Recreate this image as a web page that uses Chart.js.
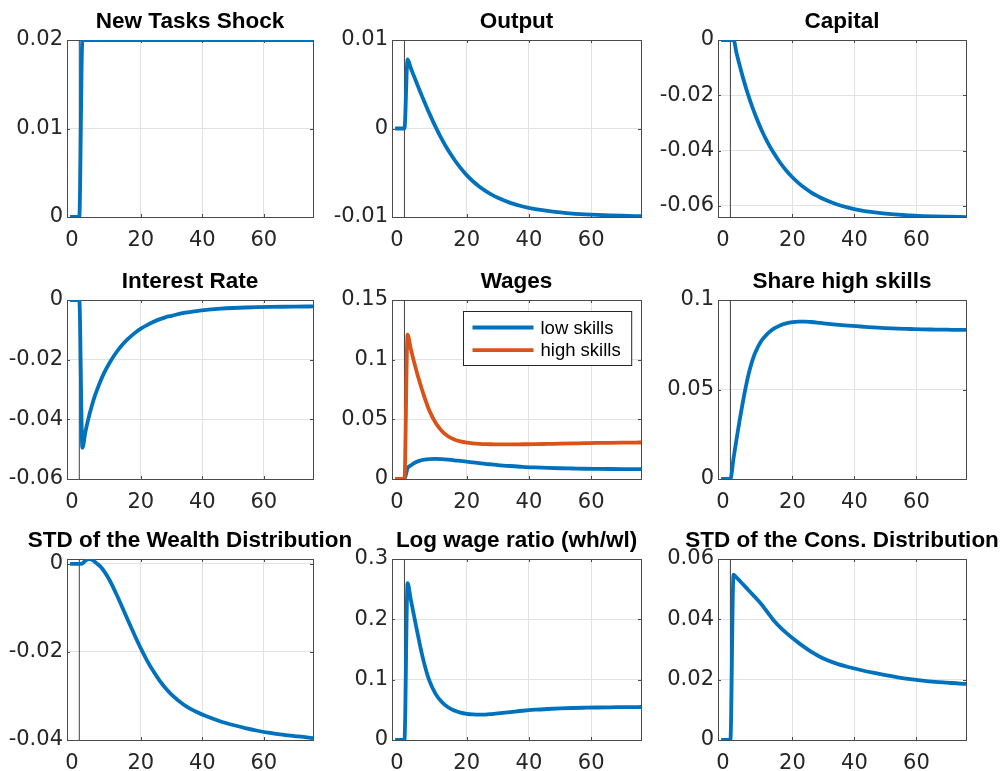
<!DOCTYPE html>
<html>
<head>
<meta charset="utf-8">
<script src="https://cdn.jsdelivr.net/npm/chart.js@4.4.1/dist/chart.umd.min.js"></script>
<style>
  html, body { margin: 0; padding: 0; background: #ffffff; overflow: hidden; width: 1003px; height: 771px; }
  canvas { position: absolute; }
</style>
</head>
<body>
<script>
// Periods relative to the shock (shock hits at t = 1)
const periods = [-3, -2, -1, 0, 1, 2, 3, 4, 5, 6, 7, 8, 10, 12, 14, 16, 18, 20, 22, 24, 26, 28, 30, 34, 38, 42, 46, 50, 54, 58, 62, 66, 70, 74, 76];

// Impulse responses, one value per period
const newTasks = [0, 0, 0, 0, 0.02, 0.02, 0.02, 0.02, 0.02, 0.02, 0.02, 0.02, 0.02, 0.02, 0.02, 0.02, 0.02, 0.02, 0.02, 0.02, 0.02, 0.02, 0.02, 0.02, 0.02, 0.02, 0.02, 0.02, 0.02, 0.02, 0.02, 0.02, 0.02, 0.02, 0.02];
const output = [0, 0, 0, 0, 0.0078, 0.00687, 0.00597, 0.00508, 0.0042, 0.00335, 0.00251, 0.00171, 0.00018, -0.00121, -0.00244, -0.0035, -0.00445, -0.00527, -0.00596, -0.00655, -0.00705, -0.00747, -0.00783, -0.0084, -0.00881, -0.00911, -0.00932, -0.00948, -0.00961, -0.0097, -0.00977, -0.00982, -0.00986, -0.00989, -0.00991];
const capital = [0, 0, 0, 0, 0, -0.00482, -0.00924, -0.01342, -0.01721, -0.02074, -0.02401, -0.02703, -0.03242, -0.03698, -0.04089, -0.0443, -0.04719, -0.04963, -0.05175, -0.05354, -0.05508, -0.05637, -0.05752, -0.05932, -0.0606, -0.06157, -0.06227, -0.06279, -0.06317, -0.06343, -0.06365, -0.0638, -0.0639, -0.06398, -0.06401];
const interestRate = [0, 0, 0, 0, -0.0495, -0.0441, -0.0396, -0.0357, -0.0323, -0.0295, -0.0269, -0.0246, -0.0208, -0.0176, -0.015, -0.0129, -0.0111, -0.0096, -0.0084, -0.0074, -0.0065, -0.0058, -0.0053, -0.00435, -0.0037, -0.00324, -0.00291, -0.00268, -0.00252, -0.0024, -0.00232, -0.00226, -0.00221, -0.00218, -0.00217];
const wageLow = [0, 0, 0, 0, 0.009, 0.0114, 0.0131, 0.0144, 0.0154, 0.016, 0.0164, 0.0167, 0.0168, 0.0166, 0.0162, 0.0157, 0.0151, 0.0145, 0.0139, 0.0133, 0.0127, 0.0122, 0.0117, 0.0109, 0.0102, 0.0097, 0.0093, 0.009, 0.0088, 0.0086, 0.0085, 0.0084, 0.0083, 0.0082, 0.0082];
const wageHigh = [0, 0, 0, 0, 0.121, 0.1095, 0.099, 0.0893, 0.0803, 0.072, 0.0643, 0.0573, 0.0472, 0.0403, 0.0358, 0.0331, 0.0315, 0.0305, 0.0299, 0.0295, 0.0292, 0.0291, 0.029, 0.029, 0.0291, 0.0292, 0.0294, 0.0296, 0.0298, 0.03, 0.0302, 0.0303, 0.0304, 0.0305, 0.0306];
const shareHigh = [0, 0, 0, 0, 0.0115, 0.0225, 0.033, 0.0428, 0.0518, 0.0595, 0.0657, 0.0705, 0.0772, 0.0812, 0.084, 0.0858, 0.0869, 0.0876, 0.0879, 0.0879, 0.0877, 0.0874, 0.087, 0.0863, 0.0857, 0.0852, 0.0847, 0.0843, 0.084, 0.0838, 0.0836, 0.0835, 0.0834, 0.0833, 0.0833];
const wealthStd = [0, 0, 0, 0, 0.0001, 0.0007, 0.0011, 0.001, 0.0005, -0.0001, -0.0007, -0.0016, -0.0039, -0.0068, -0.0099, -0.0131, -0.0162, -0.0192, -0.0219, -0.0243, -0.0264, -0.0282, -0.0297, -0.032, -0.0336, -0.0348, -0.0358, -0.0366, -0.0373, -0.0379, -0.0384, -0.0388, -0.0391, -0.0394, -0.0396];
const logWageRatio = [0, 0, 0, 0, 0.26, 0.234, 0.208, 0.182, 0.157, 0.134, 0.1145, 0.0985, 0.0765, 0.063, 0.0543, 0.0488, 0.0454, 0.0434, 0.0423, 0.0419, 0.0421, 0.043, 0.044, 0.0462, 0.0485, 0.0502, 0.0514, 0.0523, 0.053, 0.0535, 0.0539, 0.0542, 0.0544, 0.0546, 0.0547];
const consStd = [0, 0, 0, 0, 0.0548, 0.0538, 0.0528, 0.0517, 0.0506, 0.0495, 0.0484, 0.0473, 0.045, 0.0423, 0.0396, 0.0374, 0.0355, 0.0338, 0.0322, 0.0307, 0.0293, 0.0281, 0.027, 0.0254, 0.0242, 0.0232, 0.0223, 0.0215, 0.0208, 0.0202, 0.0197, 0.0193, 0.019, 0.0187, 0.0186];

// Horizontal axis: range, tick label positions and tick labels
const xRange = [-4, 76];
const xLabelAt = [-2.4, 20, 40, 60];
const xLabels = ['0', '20', '40', '60'];

// Vertical tick values for each panel
const shockTicks = [0, 0.01, 0.02];
const outputTicks = [-0.01, 0, 0.01];
const capitalTicks = [-0.06, -0.04, -0.02, 0];
const interestTicks = [-0.06, -0.04, -0.02, 0];
const wageTicks = [0, 0.05, 0.1, 0.15];
const shareTicks = [0, 0.05, 0.1];
const wealthTicks = [-0.04, -0.02, 0];
const ratioTicks = [0, 0.1, 0.2, 0.3];
const consTicks = [0, 0.02, 0.04, 0.06];

// Styling
const BLUE = '#0072BD';
const ORANGE = '#D95319';
const AXIS = '#4a4a4a';
const GRID = '#e2e2e2';
const TICK_COLOR = '#262626';
const TICK_FONT = { family: '"DejaVu Sans", sans-serif', size: 21 };
const TITLE_FONT = 'bold 22.5px "Liberation Sans", Arial, sans-serif';
const LEGEND_FONT = '18.5px "Liberation Sans", Arial, sans-serif';
const LINE_W = 3.8;

// Axes boxes in page pixels (columns / rows of the 3x3 grid)
const AX_L = [67, 392, 718], AX_R = [313, 641, 966];
const AX_T = [40, 300, 559], AX_B = [217, 479, 740];
const PAD = { l: 62, r: 40, t: 40, b: 42 };

const panels = [
  { title: 'New Tasks Shock', col: 0, row: 0, y: [0, 0.02], yTicks: shockTicks, series: [{ values: newTasks, color: BLUE }] },
  { title: 'Output', col: 1, row: 0, y: [-0.01, 0.01], yTicks: outputTicks, series: [{ values: output, color: BLUE }] },
  { title: 'Capital', col: 2, row: 0, y: [-0.064, 0], yTicks: capitalTicks, series: [{ values: capital, color: BLUE }] },
  { title: 'Interest Rate', col: 0, row: 1, y: [-0.06, 0], yTicks: interestTicks, series: [{ values: interestRate, color: BLUE }] },
  { title: 'Wages', col: 1, row: 1, y: [0, 0.15], yTicks: wageTicks, legend: true,
    series: [{ label: 'low skills', values: wageLow, color: BLUE }, { label: 'high skills', values: wageHigh, color: ORANGE }] },
  { title: 'Share high skills', col: 2, row: 1, y: [0, 0.1], yTicks: shareTicks, series: [{ values: shareHigh, color: BLUE }] },
  { title: 'STD of the Wealth Distribution', col: 0, row: 2, y: [-0.04, 0.0011], yTicks: wealthTicks, series: [{ values: wealthStd, color: BLUE }] },
  { title: 'Log wage ratio (wh/wl)', col: 1, row: 2, y: [0, 0.3], yTicks: ratioTicks, series: [{ values: logWageRatio, color: BLUE }] },
  { title: 'STD of the Cons. Distribution', col: 2, row: 2, y: [0, 0.06], yTicks: consTicks, series: [{ values: consStd, color: BLUE }] }
];

// Box around the axes with short inward tick marks on all four sides
const framePlugin = {
  id: 'frame',
  beforeDatasetsDraw(chart) {
    const { ctx, chartArea: a, scales } = chart;
    ctx.save();
    ctx.strokeStyle = AXIS;
    ctx.lineWidth = 1;
    ctx.strokeRect(a.left + 0.5, a.top + 0.5, a.right - a.left, a.bottom - a.top);
    const tl = 3;
    ctx.beginPath();
    scales.x.ticks.forEach((t, i) => {
      if (i === 0) return;
      const px = Math.round(scales.x.getPixelForValue(t.value)) + 0.5;
      ctx.moveTo(px, a.bottom); ctx.lineTo(px, a.bottom - tl);
      ctx.moveTo(px, a.top); ctx.lineTo(px, a.top + tl);
    });
    scales.y.ticks.forEach(t => {
      const py = Math.round(scales.y.getPixelForValue(t.value)) + 0.5;
      ctx.moveTo(a.left, py); ctx.lineTo(a.left + tl, py);
      ctx.moveTo(a.right, py); ctx.lineTo(a.right - tl, py);
    });
    ctx.stroke();
    ctx.restore();
  }
};

// Bold panel title centred over the axes
const titlePlugin = {
  id: 'panelTitle',
  afterDraw(chart, args, opts) {
    const { ctx, chartArea: a } = chart;
    ctx.save();
    ctx.font = TITLE_FONT;
    ctx.fillStyle = '#000000';
    ctx.textAlign = 'center';
    ctx.textBaseline = 'alphabetic';
    ctx.fillText(opts.text, (a.left + a.right) / 2, a.top - 12);
    ctx.restore();
  }
};

// Boxed legend in the upper-right corner of the axes
const boxLegendPlugin = {
  id: 'boxLegend',
  afterDatasetsDraw(chart, args, opts) {
    if (!opts.show) return;
    const { ctx, chartArea: a } = chart;
    const items = chart.data.datasets.filter(d => d.label);
    ctx.save();
    ctx.font = LEGEND_FONT;
    const maxW = Math.max(...items.map(d => ctx.measureText(d.label).width));
    const bw = 77 + maxW + 11, bh = 54;
    const bx = Math.round(a.right - 10 - bw) + 0.5, by = Math.round(a.top + 11) + 0.5;
    ctx.fillStyle = '#ffffff';
    ctx.fillRect(bx, by, bw, bh);
    ctx.strokeStyle = '#262626';
    ctx.lineWidth = 1;
    ctx.strokeRect(bx, by, bw, bh);
    items.forEach((d, i) => {
      const ly = by + 16 + i * 22.6;
      ctx.strokeStyle = d.borderColor;
      ctx.lineWidth = LINE_W;
      ctx.beginPath();
      ctx.moveTo(bx + 9, ly); ctx.lineTo(bx + 70, ly);
      ctx.stroke();
      ctx.fillStyle = '#000000';
      ctx.textAlign = 'left';
      ctx.textBaseline = 'middle';
      ctx.fillText(d.label, bx + 77, ly + 1);
    });
    ctx.restore();
  }
};

function makePanel(p) {
  const L = AX_L[p.col], R = AX_R[p.col], T = AX_T[p.row], B = AX_B[p.row];
  const W = R - L + PAD.l + PAD.r, H = B - T + PAD.t + PAD.b;
  const cv = document.createElement('canvas');
  cv.width = W; cv.height = H;
  cv.style.left = (L - PAD.l) + 'px';
  cv.style.top = (T - PAD.t) + 'px';
  cv.style.width = W + 'px';
  cv.style.height = H + 'px';
  document.body.appendChild(cv);

  const n = p.series.length;
  const datasets = p.series.map((s, k) => ({
    label: s.label || '',
    data: periods.map((x, i) => ({ x: x, y: s.values[i] })),
    borderColor: s.color,
    borderWidth: LINE_W,
    pointRadius: 0,
    fill: false,
    tension: 0.4,
    cubicInterpolationMode: 'monotone',
    order: n - k
  }));
  // thin vertical reference line at period 0
  datasets.push({
    label: '',
    data: [{ x: 0, y: p.y[0] }, { x: 0, y: p.y[1] }],
    borderColor: '#404040',
    borderWidth: 1,
    pointRadius: 0,
    fill: false,
    order: 10
  });

  new Chart(cv, {
    type: 'line',
    data: { datasets },
    options: {
      responsive: false,
      animation: false,
      devicePixelRatio: 1,
      events: [],
      layout: { padding: { left: 0, top: PAD.t, right: PAD.r, bottom: 0 } },
      plugins: {
        legend: { display: false },
        tooltip: { enabled: false },
        panelTitle: { text: p.title },
        boxLegend: { show: !!p.legend }
      },
      scales: {
        x: {
          type: 'linear',
          min: xRange[0], max: xRange[1],
          afterBuildTicks: s => { s.ticks = xLabelAt.map(v => ({ value: v })); },
          afterFit: s => { s.height = PAD.b; },
          border: { display: false },
          grid: { color: c => (c.index === 0 ? 'rgba(0,0,0,0)' : GRID), drawTicks: false, lineWidth: 1 },
          ticks: { callback: (v, i) => xLabels[i], color: TICK_COLOR, font: TICK_FONT, padding: 11, maxRotation: 0, autoSkip: false }
        },
        y: {
          type: 'linear',
          min: p.y[0], max: p.y[1],
          afterBuildTicks: s => { s.ticks = p.yTicks.map(v => ({ value: v })); },
          afterFit: s => { s.width = PAD.l; },
          border: { display: false },
          grid: { color: GRID, drawTicks: false, lineWidth: 1 },
          ticks: { callback: v => String(v), color: TICK_COLOR, font: TICK_FONT, padding: 4, autoSkip: false }
        }
      }
    },
    plugins: [framePlugin, titlePlugin, boxLegendPlugin]
  });
}

panels.forEach(makePanel);
</script>
</body>
</html>
